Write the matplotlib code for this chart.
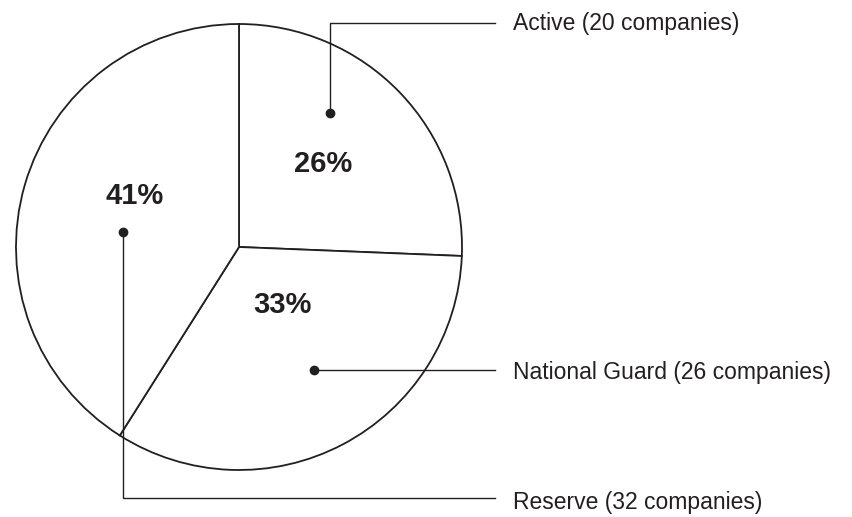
import matplotlib
matplotlib.use("Agg")
import matplotlib.pyplot as plt

categories = ["Active", "National Guard", "Reserve"]
companies = [20, 26, 32]

W, H = 853, 517
fig = plt.figure(figsize=(W / 100, H / 100), dpi=100)
ax = fig.add_axes([0, 0, 1, 1])
plt.rcParams['font.family'] = ['Liberation Sans', 'DejaVu Sans']

ink = "#231f20"
cx, cy, r = 239, H - 247, 223
ax.pie(companies, center=(cx, cy), radius=r, startangle=90, counterclock=False,
       wedgeprops=dict(facecolor="white", edgecolor=ink, linewidth=1.3))
ax.set_xlim(0, W)
ax.set_ylim(0, H)
ax.set_aspect("equal")
ax.axis("off")

total = sum(companies)
pcts = [f"{round(v / total * 100)}%" for v in companies]

# layout in pixel coords
layout = {
    "Active": dict(pct=(323, 161), dot=(330, 113), corner=(330, 23), ty=21),
    "National Guard": dict(pct=(282, 302), dot=(314, 370), corner=(314, 370), ty=370),
    "Reserve": dict(pct=(135, 193), dot=(123, 232), corner=(123, 498), ty=500),
}
line_end_x = 495
text_x = 513

for cat, n, p in zip(categories, companies, pcts):
    L = layout[cat]
    px, py = L["pct"]
    ax.text(px, H - py, p, ha="center", va="center_baseline", fontsize=21,
            fontweight="bold", color=ink)
    dx, dy = L["dot"]
    kx, ky = L["corner"]
    ax.plot([dx, kx, line_end_x], [H - dy, H - ky, H - ky], color=ink, lw=1.0,
            solid_joinstyle="miter")
    ax.plot([dx], [H - dy], "o", color=ink, ms=6)
    ax.text(text_x, H - L["ty"], f"{cat} ({n} companies)", ha="left",
            va="center_baseline", fontsize=16.5, color=ink)

fig.savefig("out.png", dpi=100)
